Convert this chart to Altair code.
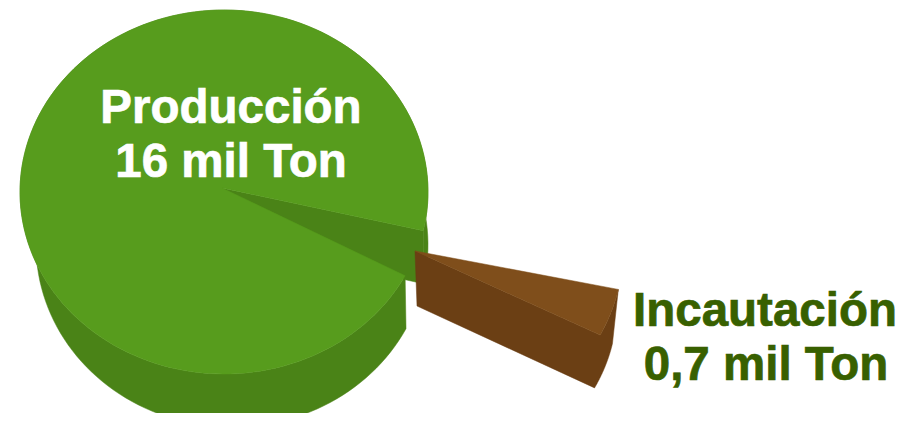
import altair as alt
import numpy as np
import pandas as pd

# Values
categories = ["Producción", "Incautación"]
values = [16, 0.7]
value_labels = ["16 mil Ton", "0,7 mil Ton"]

share = values[1] / sum(values) * 360
gap_start = 12.3
gap_end = gap_start + share

def arc(c, a0, a1, n=160):
    t = np.radians(np.linspace(a0, a1, n))
    return [(c[0] + c[2] * np.cos(v), c[1] + c[3] * np.sin(v)) for v in t]

# ellipses: centre x, centre y, radius x, radius y
main_top = (224, 192, 204, 182)
main_bot = (232, 245, 196, 182)
main_apex, main_apex_bot = (222, 188), (230, 241)
slice_top = (419, 250, 204, 185)
slice_bot = (417, 306, 200, 178)
slice_apex, slice_apex_bot = (415, 251), (417, 306)

TOP_G, WALL_G = "#579c1d", "#4a8317"
TOP_B, WALL_B = "#7f4e1b", "#6b3f14"

shapes = [
    ("main wall", WALL_G, arc(main_top, gap_end, gap_start + 360) + arc(main_bot, gap_start + 360, gap_end)),
    ("inner wall", WALL_G, [main_apex] + arc(main_top, gap_start, gap_start, 1) + arc(main_bot, gap_start, gap_start, 1) + [main_apex_bot]),
    ("main top", TOP_G, [main_apex] + arc(main_top, gap_end, gap_start + 360)),
    ("slice wall", WALL_B, [slice_apex] + arc(slice_top, gap_end, gap_start) + arc(slice_bot, gap_start, gap_end) + [slice_apex_bot]),
    ("slice top", TOP_B, [slice_apex] + arc(slice_top, gap_start, gap_end)),
]

X = alt.X("x:Q", scale=alt.Scale(domain=[8, 896], nice=False, zero=False), axis=None)
Y = alt.Y("y:Q", scale=alt.Scale(domain=[8, 413], reverse=True, nice=False, zero=False), axis=None)

layers = []
for name, colour, pts in shapes:
    pts = pts + [pts[0]]
    df = pd.DataFrame({"x": [p[0] for p in pts], "y": [p[1] for p in pts], "i": range(len(pts))})
    layers.append(
        alt.Chart(df).mark_line(fill=colour, stroke=colour, strokeWidth=0.5, clip=True, interpolate="linear")
        .encode(x=X, y=Y, order="i:O")
    )

labels = pd.DataFrame({
    "x": [231, 231, 765, 766],
    "y": [123, 177, 326, 380],
    "t": [categories[0], value_labels[0], categories[1], value_labels[1]],
    "c": ["#ffffff", "#ffffff", "#386000", "#386000"],
})
text = alt.Chart(labels).mark_text(
    font="Liberation Sans", fontWeight="bold", fontSize=47.5, align="center", baseline="alphabetic", strokeWidth=0.7
).encode(x=X, y=Y, text="t:N", color=alt.Color("c:N", scale=None), stroke=alt.Stroke("c:N", scale=None))

chart = alt.layer(*layers, text).properties(
    width=888, height=405, padding=0, autosize=alt.AutoSizeParams(type="none"),
    background="white",
).configure_view(stroke=None)

chart.save("out.html", embed_options={"renderer": "svg", "actions": False})
